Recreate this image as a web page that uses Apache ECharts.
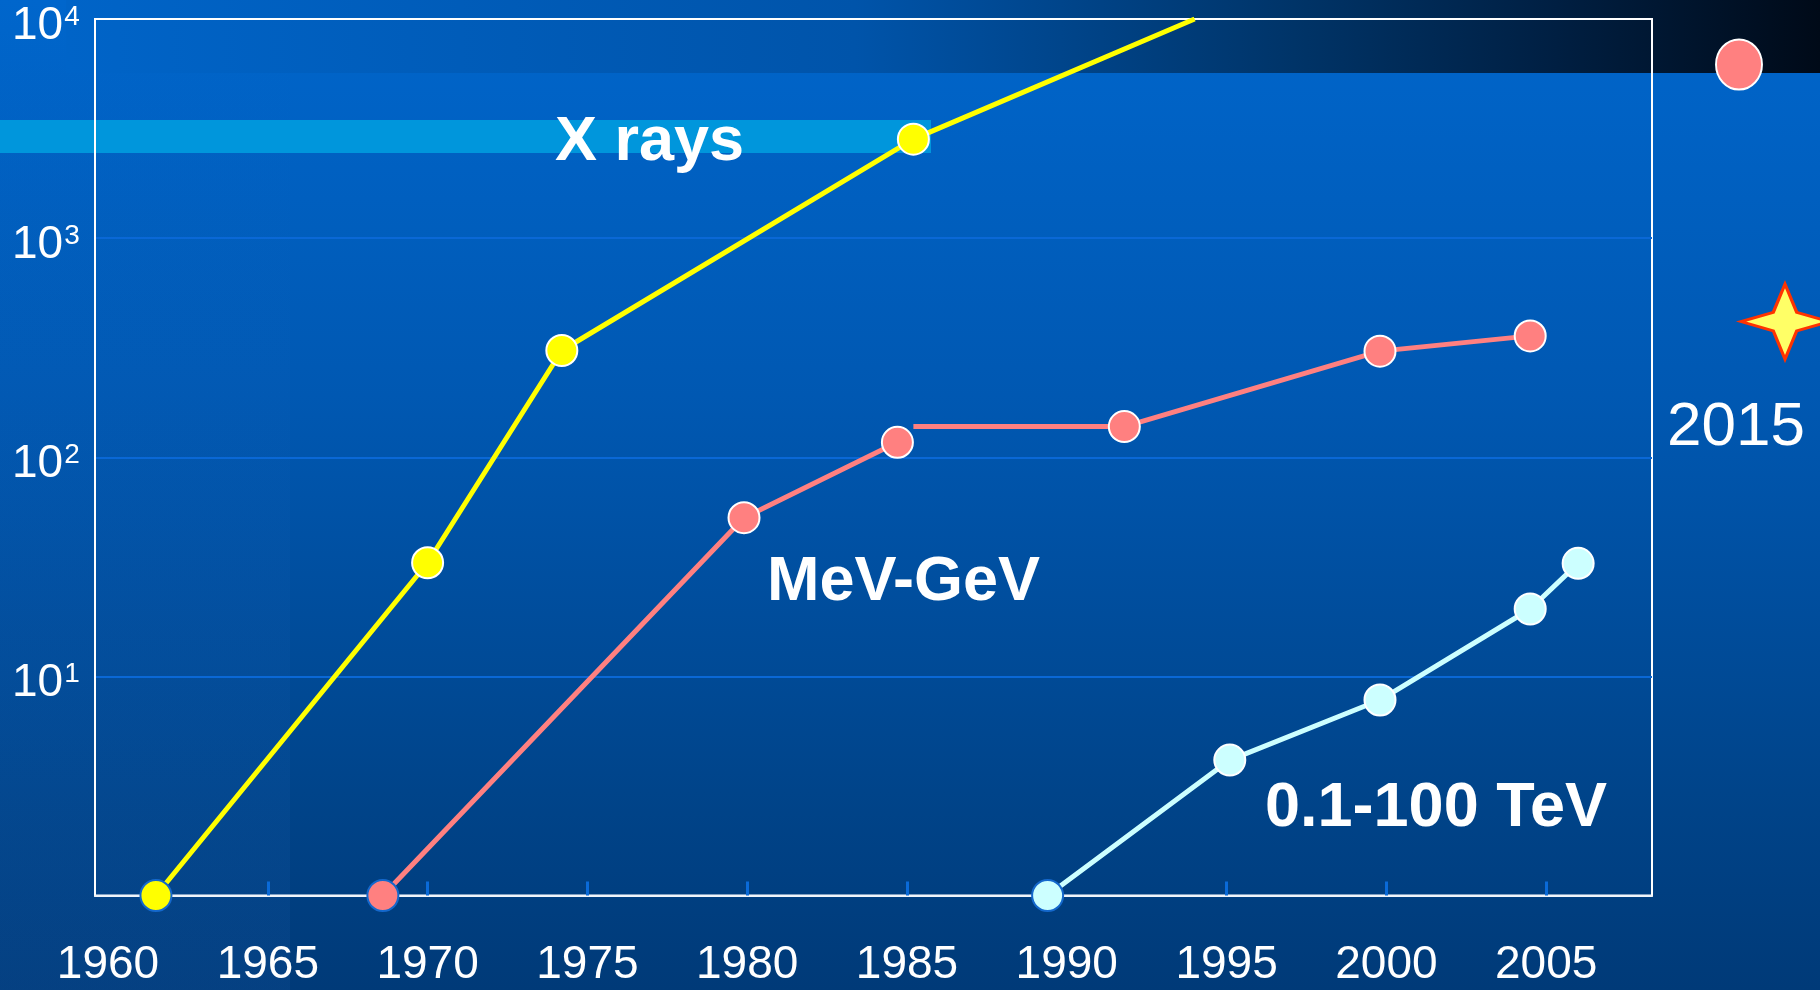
<!DOCTYPE html>
<html>
<head>
<meta charset="utf-8">
<title>Sensitivity vs year</title>
<script src="https://cdn.jsdelivr.net/npm/echarts@6/dist/echarts.min.js"></script>
<style>
  html, body { margin: 0; padding: 0; background: #0058b0; }
  #main { width: 1820px; height: 990px; }
</style>
</head>
<body>
<div id="main"></div>
<script>
// values (x = year, y = log scale)
const xrayYears = [1961.5, 1970.0, 1974.2, 1985.2, 1994.0];
const xrayValues = [1, 33, 307, 2830, 10000];
// the MeV-GeV line has a gap after the 1984.7 point (null = gap)
const mevYears = [1968.6, 1979.9, 1984.7, 1985.0, 1985.2, 1991.8, 1999.8, 2004.5];
const mevValues = [1, 53, 117, null, 138, 138, 305, 358];
const tevYears = [1989.4, 1995.1, 1999.8, 2004.5, 2006.0];
const tevValues = [1, 4.15, 7.8, 20.3, 32.8];

// projections drawn right of the frame
const projCategories = ['2015'];
const projCircle = [6200];
const projStar = [416];

const yearLabels = [1960, 1965, 1970, 1975, 1980, 1985, 1990, 1995, 2000, 2005];
const yearTicks = [1965, 1970, 1975, 1980, 1985, 1995, 2000, 2005];

const font = '"Liberation Sans", Arial, sans-serif';

// dots on the bottom axis get a blue rim; line ends / segment starts get no dot
function points(years, values) {
  return years.map((y, i) => {
    const v = values[i];
    if (v === null) return { value: [y, '-'] };
    const item = { value: [y, v] };
    if (v <= 1) item.itemStyle = { borderColor: '#1468cc' };
    if (v >= 10000 || (i > 0 && values[i - 1] === null)) item.symbol = 'none';
    return item;
  });
}

function lineSeries(name, color, years, values) {
  return {
    name: name,
    type: 'line',
    xAxisIndex: 0,
    yAxisIndex: 0,
    data: points(years, values),
    connectNulls: false,
    symbol: 'circle',
    symbolSize: 31,
    lineStyle: { color: color, width: 5 },
    itemStyle: { color: color, borderColor: '#ffffff', borderWidth: 2, opacity: 1 },
    z: 5
  };
}

let chart = echarts.init(document.getElementById('main'));
let option = {
  animation: false,
  graphic: [
    // slide background
    {
      type: 'rect', z: -30, silent: true,
      shape: { x: 0, y: 0, width: 1820, height: 990 },
      style: {
        fill: {
          type: 'linear', x: 0, y: 0, x2: 0, y2: 1,
          colorStops: [
            { offset: 0, color: '#0066cc' },
            { offset: 0.4, color: '#0058b2' },
            { offset: 0.6, color: '#004e9e' },
            { offset: 0.8, color: '#00448a' },
            { offset: 1, color: '#003a78' }
          ]
        }
      }
    },
    {
      type: 'rect', z: -29, silent: true,
      shape: { x: 0, y: 0, width: 290, height: 990 },
      style: {
        fill: {
          type: 'linear', x: 0, y: 0, x2: 0, y2: 1,
          colorStops: [
            { offset: 0, color: 'rgba(40,110,200,0)' },
            { offset: 1, color: 'rgba(40,110,200,0.12)' }
          ]
        }
      }
    },
    {
      type: 'rect', z: -28, silent: true,
      shape: { x: 66, y: 0, width: 1754, height: 73 },
      style: {
        fill: {
          type: 'linear', x: 0, y: 0, x2: 1, y2: 0,
          colorStops: [
            { offset: 0, color: '#0064c8' },
            { offset: 0.45, color: '#0054aa' },
            { offset: 0.7, color: '#003468' },
            { offset: 0.85, color: '#001f42' },
            { offset: 1, color: '#000a18' }
          ]
        }
      }
    },
    {
      type: 'rect', z: -27, silent: true,
      shape: { x: 0, y: 120, width: 931, height: 33 },
      style: { fill: '#0096dc' }
    },
    // series names and the 2015 note
    {
      type: 'text', z: 50, x: 555, y: 143,
      style: { text: 'X rays', font: 'bold 63px ' + font, fill: '#ffffff', align: 'left', verticalAlign: 'middle' }
    },
    {
      type: 'text', z: 50, x: 767, y: 583,
      style: { text: 'MeV-GeV', font: 'bold 63px ' + font, fill: '#ffffff', align: 'left', verticalAlign: 'middle' }
    },
    {
      type: 'text', z: 50, x: 1265, y: 809,
      style: { text: '0.1-100 TeV', font: 'bold 63px ' + font, fill: '#ffffff', align: 'left', verticalAlign: 'middle' }
    },
    {
      type: 'text', z: 50, x: 1736, y: 428,
      style: { text: '2015', font: '62px ' + font, fill: '#ffffff', align: 'center', verticalAlign: 'middle' }
    }
  ],
  grid: [
    {
      left: 95, right: 168, top: 19, bottom: 94.5,
      show: true, borderColor: '#ffffff', borderWidth: 2, backgroundColor: 'transparent'
    },
    { left: 1652, right: 0, top: 19, bottom: 94.5 }
  ],
  xAxis: [
    {
      type: 'value',
      gridIndex: 0,
      min: 1959.593,
      max: 2008.311,
      axisLine: { show: true, lineStyle: { color: '#f0f4fa', width: 2 } },
      axisTick: {
        show: true, inside: true, length: 14,
        customValues: yearTicks,
        lineStyle: { color: '#0a6ad8', width: 3 }
      },
      axisLabel: {
        customValues: yearLabels,
        margin: 47,
        color: '#ffffff',
        fontSize: 46,
        fontFamily: font,
        formatter: v => String(v)
      },
      splitLine: { show: false }
    },
    {
      type: 'category',
      gridIndex: 1,
      data: projCategories,
      show: false
    }
  ],
  yAxis: [
    {
      type: 'log',
      gridIndex: 0,
      logBase: 10,
      min: 1,
      max: 10000,
      axisLine: { show: true, lineStyle: { color: '#ffffff', width: 2 } },
      axisTick: { show: false },
      axisLabel: {
        align: 'left',
        margin: 83,
        padding: [14, 0, 0, 0],
        showMinLabel: false,
        formatter: v => {
          const e = Math.round(Math.log10(v));
          return e === 0 ? '' : '{b|10}{s|' + e + '}';
        },
        rich: {
          b: { fontSize: 46, lineHeight: 46, color: '#ffffff', fontFamily: font },
          s: { fontSize: 28, lineHeight: 28, color: '#ffffff', fontFamily: font, verticalAlign: 'top', padding: [0, 0, 0, 1] }
        }
      },
      splitLine: {
        show: true,
        showMinLine: false,
        showMaxLine: false,
        lineStyle: { color: '#0a68d6', width: 2 }
      }
    },
    {
      type: 'log',
      gridIndex: 1,
      logBase: 10,
      min: 1,
      max: 10000,
      show: false,
      splitLine: { show: false }
    }
  ],
  series: [
    lineSeries('X rays', '#ffff00', xrayYears, xrayValues),
    lineSeries('MeV-GeV', '#ff8080', mevYears, mevValues),
    lineSeries('0.1-100 TeV', '#ccffff', tevYears, tevValues),
    {
      name: 'MeV-GeV 2015',
      type: 'scatter',
      xAxisIndex: 1,
      yAxisIndex: 1,
      clip: false,
      data: projCircle,
      symbol: 'circle',
      symbolSize: [46, 50],
      symbolOffset: [3, 0],
      itemStyle: { color: '#ff8080', borderColor: '#ffffff', borderWidth: 2, opacity: 1 }
    },
    {
      name: '2015 star',
      type: 'scatter',
      xAxisIndex: 1,
      yAxisIndex: 1,
      clip: false,
      data: projStar,
      symbol: 'path://M0,-1 L0.266,-0.248 L1,0 L0.266,0.248 L0,1 L-0.266,0.248 L-1,0 L-0.266,-0.248 Z',
      symbolKeepAspect: false,
      symbolSize: [88, 75],
      symbolOffset: [49, 0],
      itemStyle: { color: '#ffff66', borderColor: '#ff3300', borderWidth: 3, opacity: 1 }
    }
  ]
};
option && chart.setOption(option);
</script>
</body>
</html>
